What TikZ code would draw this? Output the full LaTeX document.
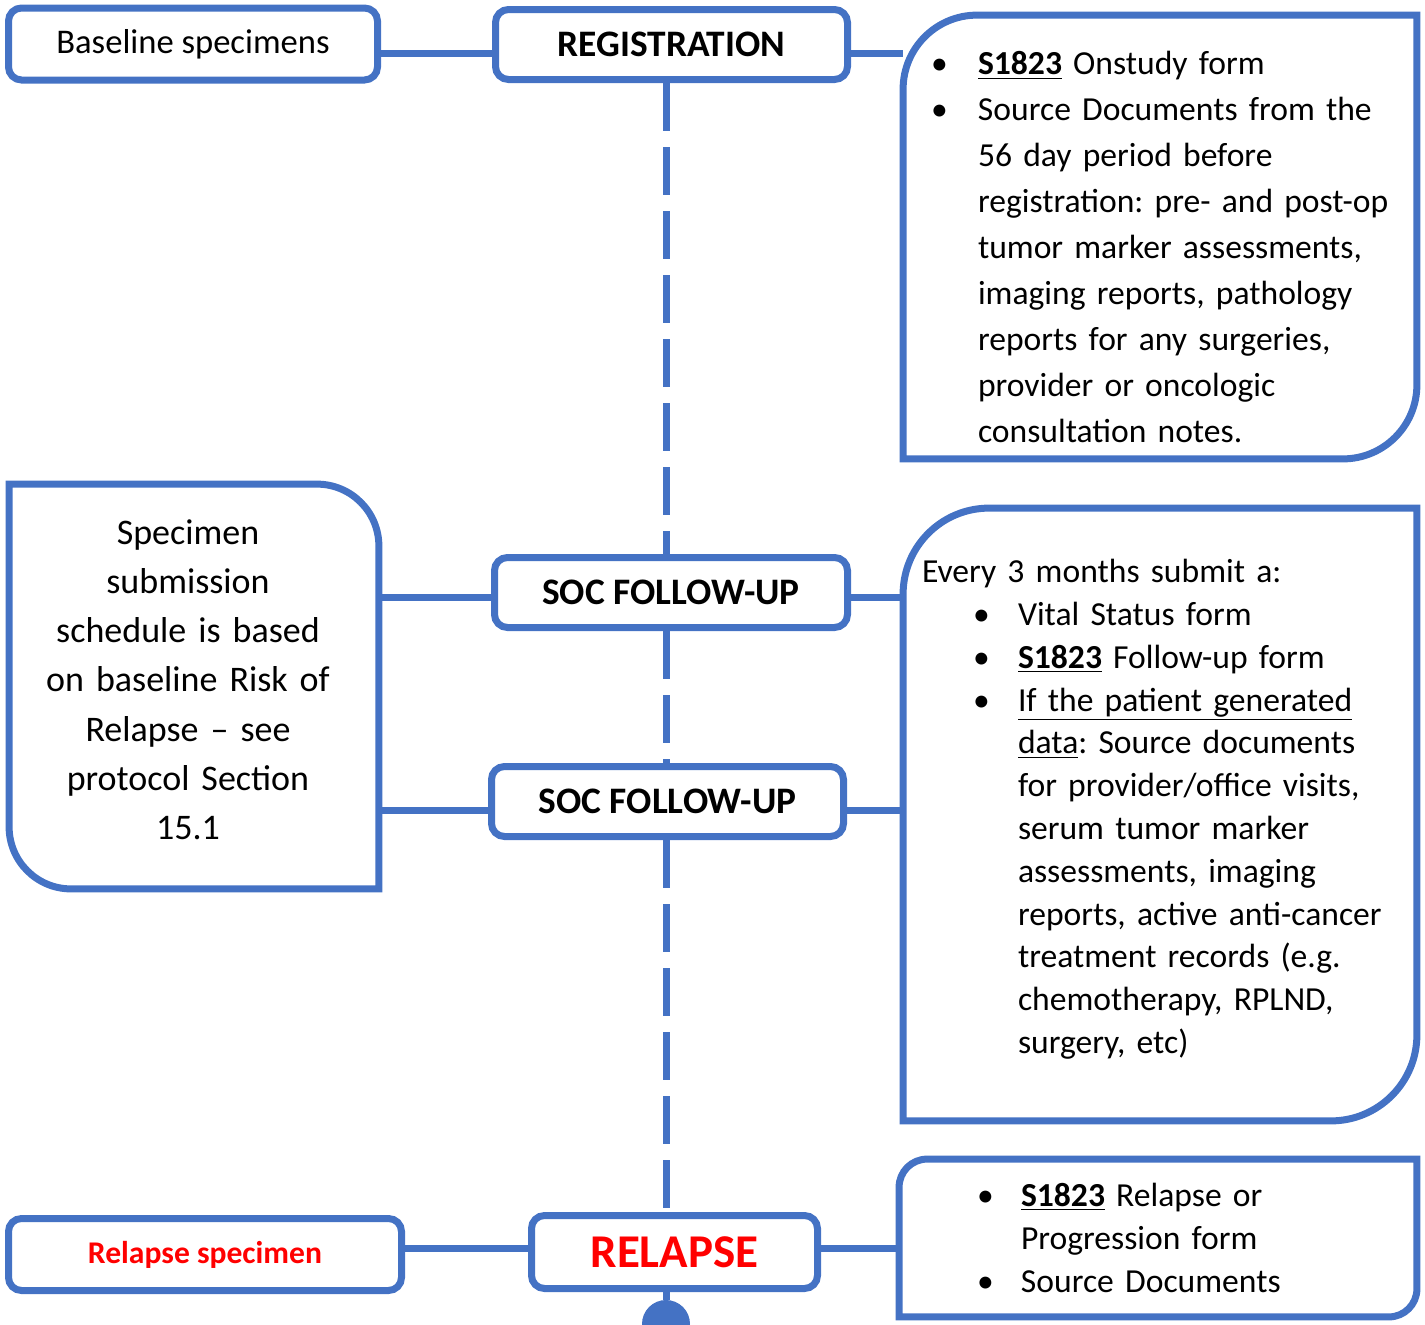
\documentclass[tikz,border=0pt]{standalone}
\usepackage{fontspec}
\setmainfont{Carlito}
\usepackage{xcolor}
\usepackage{tikz}
\usetikzlibrary{calc}
\definecolor{ocblue}{HTML}{4472C4}
\definecolor{ocred}{rgb}{1.0, 0.0, 0.0}
\frenchspacing

% petites aides pour les listes
\newcommand{\bulletbox}[1][23.5pt]{\makebox[#1][l]{\textbullet}}
\newcommand{\hangind}[1][23.5pt]{\hspace*{#1}}
\newcommand{\studyid}{\underline{\textbf{S1823}}}

% contours a deux coins arrondis
\newcommand{\cornerTLBR}[2]{\draw[outline] ([yshift=-#2]#1.north west) arc[start angle=180,end angle=90,radius=#2] -- (#1.north east) -- ([yshift=#2]#1.south east) arc[start angle=0,end angle=-90,radius=#2] -- (#1.south west) -- cycle;}
\newcommand{\cornerTRBL}[2]{\draw[outline] (#1.north west) -- ([xshift=-#2]#1.north east) arc[start angle=90,end angle=0,radius=#2] -- (#1.south east) -- ([xshift=#2]#1.south west) arc[start angle=270,end angle=180,radius=#2] -- cycle;}

\tikzset{
  outline/.style={draw=ocblue, line width=3.5pt},
  link/.style={draw=ocblue, line width=3.5pt},
  spine/.style={draw=ocblue, line width=3.5pt, dash pattern=on 24pt off 8pt},
  stage/.style={outline, rounded corners=6.5pt, fill=white, inner sep=0pt, minimum height=35pt, font=\fontsize{18.7}{22}\selectfont\bfseries},
  sidebox/.style={outline, rounded corners=6.5pt, fill=white, inner sep=0pt, minimum height=36pt},
  panel/.style={inner ysep=0pt, align=left, font=\fontsize{16.8}{21.4}\selectfont},
}

\begin{document}
\begin{tikzpicture}[x=0.5pt, y=-0.5pt]
    \useasboundingbox (0,0) rectangle (1425,1324);

    % Etapes centrales
    \node[stage, minimum width=176pt] (reg) at (671.5,44.5) {REGISTRATION};
    \node[stage, minimum width=176.5pt] (soc1) at (671,592.5) {SOC FOLLOW-UP};
    \node[stage, minimum width=176pt] (soc2) at (667.5,801.5) {SOC FOLLOW-UP};
    \node[stage, minimum width=143pt, minimum height=36.5pt, text=ocred,
          font=\fontsize{23.5}{26}\selectfont\bfseries] (rel) at (674.5,1252) {RELAPSE};
    \node[circle, fill=ocblue, minimum size=24pt, inner sep=0pt] (dot) at (666,1324) {};

    % Echantillons a gauche
    \node[sidebox, minimum width=184.5pt, font=\fontsize{17.3}{21}\selectfont] (base) at (193,44) {Baseline specimens};
    \node[sidebox, minimum width=196.5pt, text=ocred, font=\fontsize{15.8}{19}\selectfont\bfseries] (relspec) at (205,1254.5) {Relapse specimen};
    \node[inner xsep=7.25pt, inner ysep=0pt, text width=170pt, align=center,
          minimum width=184.5pt, minimum height=202pt,
          font=\fontsize{18}{24.6}\selectfont] (sched) at (194,686.5)
          {\hspace*{-6pt}Specimen\\ \hspace*{-6pt}submission\\ \hspace*{-6pt}schedule is based\\ \hspace*{-6pt}on baseline Risk of\\ \hspace*{-6pt}Relapse \textendash{} see\\ \hspace*{-6pt}protocol Section\\ \hspace*{-6pt}15.1\rule[-7pt]{0pt}{0pt}};
    \cornerTRBL{sched}{31pt}

    % Formulaires a droite
    \node[panel, inner xsep=13.75pt, text width=229pt, minimum width=256.5pt,
          minimum height=221.5pt, font=\fontsize{16.8}{23}\selectfont] (onstudy) at (1160,237) {%
        \rule{0pt}{22pt}\bulletbox\studyid{} Onstudy form\\
        \bulletbox Source Documents from the\\
        \hangind 56 day period before\\
        \hangind\mbox{registration: pre- and post-op}\\
        \hangind tumor marker assessments,\\
        \hangind imaging reports, pathology\\
        \hangind reports for any surgeries,\\
        \hangind provider or oncologic\\
        \hangind consultation notes.};
    \cornerTLBR{onstudy}{37pt}

    \node[panel, inner xsep=9.25pt, text width=238pt, minimum width=256.5pt,
          minimum height=306pt] (followup) at (1160,814.5) {%
        Every 3 months submit a:\\
        \hangind[25.5pt]\bulletbox[22.5pt]Vital Status form\\
        \hangind[25.5pt]\bulletbox[22.5pt]\studyid{} Follow-up form\\
        \hangind[25.5pt]\bulletbox[22.5pt]\underline{If the patient generated}\\
        \hangind[48pt]\underline{data}: Source documents\\
        \hangind[48pt]for provider/office visits,\\
        \hangind[48pt]serum tumor marker\\
        \hangind[48pt]assessments, imaging\\
        \hangind[48pt]reports, active anti-cancer\\
        \hangind[48pt]treatment records (e.g.\\
        \hangind[48pt]chemotherapy, RPLND,\\
        \hangind[48pt]surgery, etc)\rule[-8pt]{0pt}{0pt}};
    \cornerTLBR{followup}{43pt}

    \node[panel, inner xsep=38.75pt, text width=181pt, minimum width=258.5pt,
          minimum height=78.5pt] (relforms) at (1158,1238) {%
        \bulletbox[22pt]\studyid{} Relapse or\\
        \hangind[22pt]Progression form\\
        \bulletbox[22pt]Source Documents};
    \cornerTLBR{relforms}{14pt}

    % Axe vertical
    \draw[spine] (reg.south -| dot) -- (soc1.north -| dot);
    \draw[spine] (soc1.south -| dot) -- (soc2.north -| dot);
    \draw[spine] (soc2.south -| dot) -- (rel.north -| dot);
    \draw[link] (rel.south -| dot) -- (dot);

    % Liaisons horizontales
    \draw[link] ([yshift=-4.5pt]base.east) -- ([yshift=-4.5pt]base.east -| reg.west);
    \draw[link] ([yshift=-4.5pt]reg.east) -- ([yshift=-4.5pt]reg.east -| onstudy.west);
    \draw[link] ([yshift=-2.25pt]soc1.west -| sched.east) -- ([yshift=-2.25pt]soc1.west);
    \draw[link] ([yshift=-2.25pt]soc1.east) -- ([yshift=-2.25pt]soc1.east -| followup.west);
    \draw[link] ([yshift=-4.25pt]soc2.west -| sched.east) -- ([yshift=-4.25pt]soc2.west);
    \draw[link] ([yshift=-4.25pt]soc2.east) -- ([yshift=-4.25pt]soc2.east -| followup.west);
    \draw[link] ([yshift=2pt]rel.west -| relspec.east) -- ([yshift=2pt]rel.west);
    \draw[link] ([yshift=2pt]rel.east) -- ([yshift=2pt]rel.east -| relforms.west);
\end{tikzpicture}
\end{document}
